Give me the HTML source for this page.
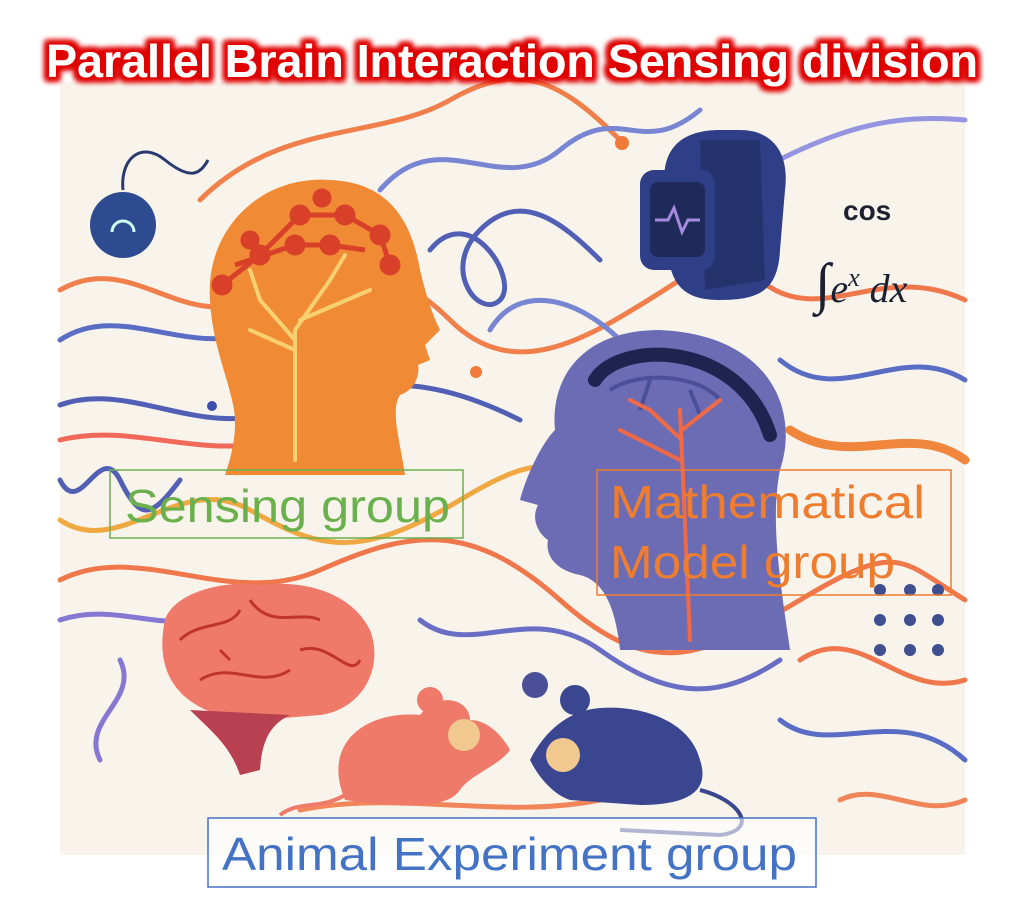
<!DOCTYPE html>
<html><head><meta charset="utf-8"><style>
html,body{margin:0;padding:0;background:#fff;}
svg{display:block;}
</style></head><body>
<svg width="1024" height="910" viewBox="0 0 1024 910" xmlns="http://www.w3.org/2000/svg">
<defs>
<filter id="glow" x="-10%" y="-50%" width="120%" height="200%">
<feMorphology in="SourceAlpha" operator="dilate" radius="4" result="d"/>
<feGaussianBlur in="d" stdDeviation="3" result="b"/>
<feFlood flood-color="#e00000"/>
<feComposite in2="b" operator="in" result="r"/>
<feMerge><feMergeNode in="r"/><feMergeNode in="r"/><feMergeNode in="SourceGraphic"/></feMerge>
</filter>
</defs>
<rect x="60" y="82" width="905" height="773" fill="#f8f4ec"/>
<g fill="none" stroke-width="5" stroke-linecap="round" opacity="0.9">
<path d="M60 290 C130 250 180 330 250 300 S380 250 450 320 S600 330 680 280" stroke="#f0733a"/>
<path d="M60 340 C120 300 190 360 260 330" stroke="#4a5fc0"/>
<path d="M60 405 C130 380 200 440 280 410 S420 370 520 420" stroke="#3f4fb0"/>
<path d="M60 440 C140 420 220 470 300 430" stroke="#f05a4a"/>
<path d="M60 520 C120 560 180 470 250 510 S360 560 460 500 S560 470 620 520" stroke="#f0a030"/>
<path d="M60 580 C140 540 230 610 320 570 S470 520 560 600 S700 660 800 600 S900 560 965 600" stroke="#f06a3a"/>
<path d="M60 620 C120 600 170 640 230 610" stroke="#7a6ad0"/>
<path d="M200 200 C280 120 380 140 450 100 S560 80 620 140" stroke="#f0733a"/>
<path d="M380 190 C440 120 500 200 560 150 S640 160 700 110" stroke="#6a7ad0"/>
<path d="M430 250 C470 200 520 280 500 300 S440 270 480 230 S560 220 600 260" stroke="#4050b0"/>
<path d="M720 190 C800 150 860 110 965 120" stroke="#8a8ae0"/>
<path d="M760 280 C820 330 880 260 965 300" stroke="#f06a3a"/>
<path d="M780 360 C840 410 900 340 965 380" stroke="#4a5fc0"/>
<path d="M790 430 C850 470 910 420 965 460" stroke="#f07a2a" stroke-width="9"/>
<path d="M800 660 C860 620 900 700 965 680" stroke="#f06a3a"/>
<path d="M780 720 C830 760 900 700 965 760" stroke="#4a5fc0"/>
<path d="M840 800 C880 780 920 820 965 800" stroke="#f07a4a"/>
<path d="M100 760 C80 720 140 700 120 660" stroke="#7a6ad0"/>
<path d="M420 620 C470 660 530 600 600 650 S720 700 780 660" stroke="#5a60c0"/>
<path d="M490 330 C520 280 580 300 620 340" stroke="#6a7ad0"/>
<path d="M60 480 C80 520 100 440 120 480 S150 520 180 480" stroke="#3f4fb0"/>
<path d="M300 810 C400 790 500 820 600 800" stroke="#f07a4a"/>
</g>
<circle cx="622" cy="143" r="7" fill="#f07a3a"/>
<circle cx="476" cy="372" r="6" fill="#f07a3a"/>
<circle cx="212" cy="406" r="5" fill="#3f4fb0"/>
<circle cx="535" cy="685" r="13" fill="#4a4f98"/>
<g fill="#3f4f90"><circle cx="880" cy="590" r="6"/><circle cx="910" cy="590" r="6"/><circle cx="938" cy="590" r="6"/><circle cx="880" cy="620" r="6"/><circle cx="910" cy="620" r="6"/><circle cx="938" cy="620" r="6"/><circle cx="880" cy="650" r="6"/><circle cx="910" cy="650" r="6"/><circle cx="938" cy="650" r="6"/></g>
<!-- sensor -->
<path d="M123 190 C120 160 140 140 165 160 S200 175 208 160" stroke="#2a3a70" stroke-width="3" fill="none"/>
<circle cx="123" cy="225" r="33" fill="#2e4a90"/>
<path d="M112 232 a11 11 0 0 1 22 0" stroke="#cfe" stroke-width="3" fill="none"/>
<!-- orange head -->
<path d="M330 180 C260 175 205 230 210 300 C212 340 225 370 232 400 C240 430 230 460 225 475 L405 475 C400 440 390 410 400 395 C415 390 420 375 418 365 L430 360 L425 345 L440 330 C430 310 425 290 420 270 C410 210 380 182 330 180Z" fill="#f08a35"/>
<g stroke="#d8402a" stroke-width="5" fill="#d8402a"><path d="M222 285 L260 255 L300 215 L345 215 L380 235 L390 265 M235 265 L295 245 L330 245 L365 250" fill="none"/>
<circle cx="222" cy="285" r="8"/><circle cx="260" cy="255" r="8"/><circle cx="300" cy="215" r="8"/><circle cx="345" cy="215" r="8"/><circle cx="380" cy="235" r="8"/><circle cx="390" cy="265" r="8"/><circle cx="295" cy="245" r="8"/><circle cx="330" cy="245" r="8"/><circle cx="250" cy="240" r="7"/><circle cx="322" cy="198" r="7"/></g>
<path d="M295 460 L295 330 M295 340 L260 300 M295 330 L330 280 M295 350 L250 330 M300 320 L370 290 M330 280 L345 255 M260 300 L250 270" stroke="#f8d070" stroke-width="4" fill="none" stroke-linecap="round"/>
<!-- watch -->
<path d="M665 190 C660 150 680 130 720 130 L740 130 C770 130 790 150 785 190 L780 250 C778 290 760 300 720 300 C690 300 670 290 668 250Z" fill="#2e3f88"/>
<path d="M700 140 L760 140 L765 280 L705 290Z" fill="#1e2b5a" opacity="0.6"/>
<rect x="640" y="170" width="75" height="100" rx="14" fill="#2e3f88"/>
<rect x="650" y="182" width="55" height="75" rx="8" fill="#1e2b5a"/>
<path d="M655 220 L668 220 L674 208 L682 232 L688 220 L700 220" stroke="#a58ae0" stroke-width="3" fill="none"/>
<rect x="765" y="195" width="18" height="16" rx="3" fill="#2e3f88"/>
<!-- math -->
<text x="843" y="220" font-family="Liberation Sans,sans-serif" font-weight="bold" font-size="28" fill="#1d2030">cos</text>
<text x="815" y="302" font-family="Liberation Serif,serif" font-style="italic" font-size="40" fill="#1d2030"><tspan font-size="56" font-style="normal">∫</tspan>e<tspan font-size="26" dy="-16">x</tspan><tspan dy="16"> dx</tspan></text>
<!-- purple head -->
<path d="M660 330 C580 330 550 380 555 430 C540 445 525 480 520 500 L538 505 C530 520 540 535 548 540 C545 555 555 570 580 575 C600 580 615 600 620 650 L790 650 C780 580 770 520 780 470 C800 410 770 335 660 330Z" fill="#6c6cb4"/>
<path d="M595 380 C620 340 740 340 770 435" stroke="#1e2350" stroke-width="14" fill="none" stroke-linecap="round"/>
<path d="M610 390 C640 370 700 375 720 400 M650 380 L640 410 M690 390 L700 415" stroke="#4a4f98" stroke-width="4" fill="none"/>
<path d="M690 640 L680 410 M682 440 L650 410 M680 460 L620 430 M682 430 L720 400 M650 410 L630 400" stroke="#f06a45" stroke-width="4" fill="none" stroke-linecap="round"/>
<!-- brain -->
<path d="M165 620 C175 590 230 580 260 585 C300 580 350 590 370 630 C385 670 360 710 320 715 L260 720 C200 720 150 690 165 620Z" fill="#f07a6a"/>
<path d="M180 640 C200 620 230 630 240 610 M250 600 C270 630 300 610 320 620 M200 680 C230 660 260 690 290 670 M300 650 C330 640 350 680 360 660 M220 650 L230 660" stroke="#c0352a" stroke-width="3" fill="none"/>
<path d="M190 710 C210 730 230 745 240 775 L260 770 C262 740 270 725 290 715Z" fill="#b84050"/>
<!-- pink mouse -->
<path d="M345 800 C320 740 370 710 420 715 C440 690 470 700 470 720 C490 720 505 740 510 750 C500 765 470 775 460 790 C450 805 420 810 345 800Z" fill="#f07a6a"/>
<circle cx="430" cy="700" r="13" fill="#f07a6a"/>
<circle cx="464" cy="735" r="16" fill="#f0c890"/>
<path d="M345 795 C320 810 300 800 280 815" stroke="#f07a6a" stroke-width="4" fill="none"/>
<!-- navy mouse -->
<path d="M530 760 C545 730 570 710 600 708 C640 705 690 720 700 760 C710 790 690 805 640 805 L570 800 C555 795 540 780 530 760Z" fill="#3a4690"/>
<circle cx="575" cy="700" r="15" fill="#3a4690"/>
<circle cx="563" cy="755" r="17" fill="#f0c890"/>
<path d="M700 790 C740 800 760 830 720 835 L620 830" stroke="#3a4690" stroke-width="4" fill="none"/>
<!-- labels -->
<rect x="110" y="470" width="353" height="68" fill="none" stroke="#6ab04c" stroke-width="1.5"/>
<text x="125" y="522" font-family="Liberation Sans,sans-serif" font-size="46" fill="#6ab04c" textLength="325" lengthAdjust="spacingAndGlyphs">Sensing group</text>
<rect x="597" y="470" width="354" height="125" fill="none" stroke="#ee7d30" stroke-width="1.5"/>
<text x="610" y="518" font-family="Liberation Sans,sans-serif" font-size="46" fill="#ee7d30" textLength="315" lengthAdjust="spacingAndGlyphs">Mathematical</text>
<text x="610" y="578" font-family="Liberation Sans,sans-serif" font-size="46" fill="#ee7d30" textLength="285" lengthAdjust="spacingAndGlyphs">Model group</text>
<rect x="208" y="818" width="608" height="69" fill="#fff" fill-opacity="0.6" stroke="#4472c4" stroke-width="1.5"/>
<text x="222" y="870" font-family="Liberation Sans,sans-serif" font-size="46" fill="#4472c4" textLength="575" lengthAdjust="spacingAndGlyphs">Animal Experiment group</text>
<text x="46" y="77" font-family="Liberation Sans,sans-serif" font-weight="bold" font-size="46" fill="#fff" textLength="932" lengthAdjust="spacingAndGlyphs" filter="url(#glow)">Parallel Brain Interaction Sensing division</text>
</svg>
</body></html>
